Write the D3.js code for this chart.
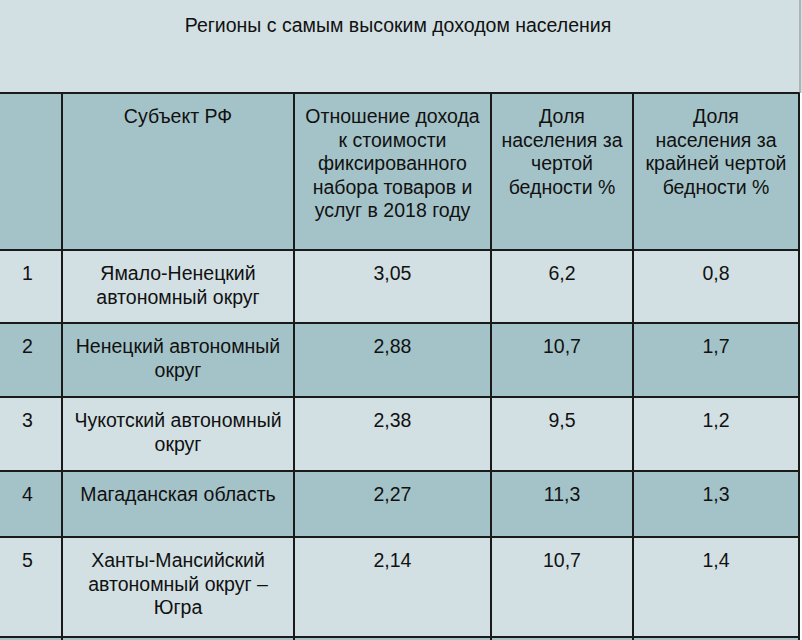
<!DOCTYPE html>
<html><head><meta charset="utf-8">
<script src="https://cdn.jsdelivr.net/npm/d3@7"></script>
<style>body{margin:0;background:#fff}text{font-family:"Liberation Sans",Arial,sans-serif;font-size:19.5px;fill:#111}</style>
</head><body><svg id="c" width="802" height="640"></svg>
<script>
var title = 'Регионы с самым высоким доходом населения';
var headers = [[''], ['Субъект РФ'],
    ['Отношение дохода', 'к стоимости', 'фиксированного', 'набора товаров и', 'услуг в 2018 году'],
    ['Доля', 'населения за', 'чертой', 'бедности %'],
    ['Доля', 'населения за', 'крайней чертой', 'бедности %']];
var ranks = ['1', '2', '3', '4', '5'];
var regions = [['Ямало-Ненецкий', 'автономный округ'], ['Ненецкий автономный', 'округ'],
    ['Чукотский автономный', 'округ'], ['Магаданская область'],
    ['Ханты-Мансийский', 'автономный округ –', 'Югра']];
var incomeRatio = ['3,05', '2,88', '2,38', '2,27', '2,14'];
var povertyShare = ['6,2', '10,7', '9,5', '11,3', '10,7'];
var extremePovertyShare = ['0,8', '1,7', '1,2', '1,3', '1,4'];

var colEdges = [0, 62, 294, 491, 633, 799];
var rowEdges = [0, 93, 250, 323, 397, 471, 537, 637, 700];
var LIGHT = '#d2e0e3', DARK = '#a4c3c8', LH = 23.5;

var svg = d3.select('#c');

var rows = [];
rows.push({cells: headers, fill: DARK});
ranks.forEach(function(r, i) {
    rows.push({cells: [[r], regions[i], [incomeRatio[i]], [povertyShare[i]], [extremePovertyShare[i]]],
        fill: i % 2 ? DARK : LIGHT});
});
rows.push({cells: [[], [], [], [], []], fill: DARK});

// title band
svg.append('rect').attr('x', 0).attr('y', 0).attr('width', 802).attr('height', rowEdges[1]).attr('fill', LIGHT);
svg.append('text').attr('x', 398).attr('y', 32).attr('text-anchor', 'middle').text(title);

rows.forEach(function(row, ri) {
    var y0 = rowEdges[ri + 1], y1 = rowEdges[ri + 2];
    svg.append('rect').attr('x', 0).attr('y', y0).attr('width', 800).attr('height', y1 - y0).attr('fill', row.fill);
    row.cells.forEach(function(lines, ci) {
        var cx = ci === 0 ? 22 : (colEdges[ci] + colEdges[ci + 1]) / 2;
        var t = svg.append('text').attr('text-anchor', ci === 0 ? 'start' : 'middle');
        lines.forEach(function(s, k) {
            t.append('tspan').attr('x', cx).attr('y', y0 + 30 + k * LH).text(s);
        });
    });
});

// grid lines
var grid = svg.append('g').attr('stroke', '#1a1a1a').attr('stroke-width', 2);
rowEdges.slice(1, -1).forEach(function(y) {
    grid.append('line').attr('x1', 0).attr('x2', 800).attr('y1', y).attr('y2', y);
});
colEdges.slice(1).forEach(function(cx) {
    grid.append('line').attr('x1', cx).attr('x2', cx).attr('y1', rowEdges[1]).attr('y2', 640);
});
grid.append('line').attr('x1', 800).attr('x2', 800).attr('y1', 0).attr('y2', rowEdges[1]).attr('stroke', '#888').attr('stroke-width', 1);
</script></body></html>
